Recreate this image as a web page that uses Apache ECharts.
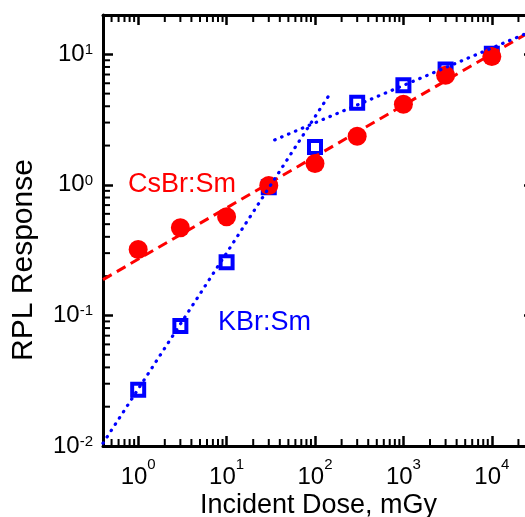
<!DOCTYPE html>
<html>
<head>
<meta charset="utf-8">
<script src="https://cdn.jsdelivr.net/npm/echarts@6/dist/echarts.min.js"></script>
<style>
html, body { margin: 0; padding: 0; background: #fff; }
#chart { width: 525px; height: 517px; }
</style>
</head>
<body>
<div id="chart"></div>
<script>
// doses (mGy) and RPL responses
const doses = [1, 3, 10, 30, 100, 300, 1000, 3000, 10000];
const csbrResponse = [0.32, 0.47, 0.57, 0.99, 1.46, 2.36, 4.14, 6.9, 9.6];
const kbrResponse = [0.027, 0.083, 0.255, 0.96, 1.95, 4.25, 5.8, 7.65, 10.1];

// power-law fit lines, end points
const csbrFit = [[0.4, 0.188], [30000, 15.5]];
const kbrFitLow = [[0.4, 0.0105], [141, 4.75]];
const kbrFitHigh = [[35, 2.21], [30000, 15.3]];

const xRange = [0.4, 30000];
const yRange = [0.01, 20];
const minorMantissas = [2, 3, 4, 5, 6, 7, 8, 9];

const FONT = '"Liberation Sans", Arial, sans-serif';
const RED = '#ff0000';
const BLUE = '#0000ff';
const MINOR_LEN = 7;

function minorTicks(lo, hi) {
    const out = [];
    for (let e = -3; e <= 5; e++) {
        for (const m of minorMantissas) {
            const v = m * Math.pow(10, e);
            if (v > lo * 1.0001 && v < hi * 0.9999) out.push(v);
        }
    }
    return out;
}

function powLabel(v) {
    const l = Math.log10(v);
    const e = Math.round(l);
    if (Math.abs(l - e) > 1e-6) return '';
    return '{b|10}{s|' + e + '}';
}

function pairs(xs, ys) {
    return xs.map((x, i) => [x, ys[i]]);
}

const tickStyle = { inside: true, length: 10, lineStyle: { color: '#000', width: 2.5 } };
const lineStyle = { color: '#000', width: 3 };

const myChart = echarts.init(document.getElementById('chart'));
const option = {
    animation: false,
    grid: {
        left: 103,
        right: -9,
        top: 15,
        bottom: 71,
        outerBoundsMode: 'none'
    },
    xAxis: [
    {
        type: 'log',
        min: xRange[0],
        max: xRange[1],
        position: 'bottom',
        axisLine: { lineStyle: lineStyle },
        axisTick: tickStyle,
        splitLine: { show: false },
        axisLabel: {
            margin: 11,
            formatter: powLabel,
            rich: {
                b: { fontSize: 24, fontFamily: FONT, color: '#000', lineHeight: 32, verticalAlign: 'bottom' },
                s: { fontSize: 15, fontFamily: FONT, color: '#000', lineHeight: 8, verticalAlign: 'top' }
            }
        },
        name: 'Incident Dose, mGy',
        nameLocation: 'middle',
        nameGap: 46,
        nameMoveOverlap: false,
        nameTextStyle: { fontSize: 27, fontFamily: FONT, color: '#000' }
    },
    {
        type: 'log',
        min: xRange[0],
        max: xRange[1],
        position: 'top',
        axisLine: { lineStyle: lineStyle },
        axisTick: tickStyle,
        axisLabel: { show: false },
        splitLine: { show: false }
    }],
    yAxis: [
    {
        type: 'log',
        min: yRange[0],
        max: yRange[1],
        position: 'left',
        axisLine: { lineStyle: lineStyle },
        axisTick: tickStyle,
        splitLine: { show: false },
        axisLabel: {
            margin: 10,
            formatter: powLabel,
            rich: {
                b: { fontSize: 24, fontFamily: FONT, color: '#000', lineHeight: 24, verticalAlign: 'middle' },
                s: { fontSize: 15, fontFamily: FONT, color: '#000', lineHeight: 15, verticalAlign: 'top' }
            }
        }
    },
    {
        type: 'log',
        min: yRange[0],
        max: yRange[1],
        position: 'right',
        axisLine: { lineStyle: lineStyle },
        axisTick: tickStyle,
        axisLabel: { show: false },
        splitLine: { show: false }
    }],
    graphic: [
        {
            type: 'text',
            x: 24,
            y: 260,
            rotation: Math.PI / 2,
            style: { text: 'RPL Response', fill: '#000', font: '30px ' + FONT, textAlign: 'center', textVerticalAlign: 'middle' }
        },
        {
            type: 'text',
            x: 128,
            y: 185,
            style: { text: 'CsBr:Sm', fill: RED, font: '27px ' + FONT, textAlign: 'left', textVerticalAlign: 'middle' }
        },
        {
            type: 'text',
            x: 218,
            y: 323,
            style: { text: 'KBr:Sm', fill: BLUE, font: '27px ' + FONT, textAlign: 'left', textVerticalAlign: 'middle' }
        }
    ],
    series: [
    {
        name: 'KBr:Sm',
        type: 'scatter',
        data: pairs(doses, kbrResponse),
        symbol: 'rect',
        symbolSize: 12,
        itemStyle: { color: 'transparent', borderColor: BLUE, borderWidth: 4, opacity: 1 }
    },
    {
        name: 'CsBr:Sm fit',
        type: 'line',
        data: csbrFit,
        showSymbol: false,
        lineStyle: { color: RED, width: 3, type: [10, 6] }
    },
    {
        name: 'CsBr:Sm',
        type: 'scatter',
        data: pairs(doses, csbrResponse),
        symbol: 'circle',
        symbolSize: 19,
        itemStyle: { color: RED, opacity: 1 }
    },
    {
        name: 'KBr:Sm fit low',
        type: 'line',
        data: kbrFitLow,
        showSymbol: false,
        lineStyle: { color: BLUE, width: 3.2, type: [0.5, 7], cap: 'round' }
    },
    {
        name: 'KBr:Sm fit high',
        type: 'line',
        data: kbrFitHigh,
        showSymbol: false,
        lineStyle: { color: BLUE, width: 3.2, type: [0.5, 7], cap: 'round' }
    },
    {
        // log minor ticks on bottom and top edges
        type: 'custom',
        silent: true,
        clip: false,
        data: minorTicks(xRange[0], xRange[1]).map(v => [v, 1]),
        renderItem: function (params, api) {
            const cs = params.coordSys;
            const px = api.coord([api.value(0), 1])[0];
            const st = { stroke: '#000', lineWidth: 2 };
            return {
                type: 'group',
                children: [
                    { type: 'line', shape: { x1: px, y1: cs.y + cs.height, x2: px, y2: cs.y + cs.height - MINOR_LEN }, style: st },
                    { type: 'line', shape: { x1: px, y1: cs.y, x2: px, y2: cs.y + MINOR_LEN }, style: st }
                ]
            };
        }
    },
    {
        // log minor ticks on left and right edges
        type: 'custom',
        silent: true,
        clip: false,
        data: minorTicks(yRange[0], yRange[1]).map(v => [1, v]),
        renderItem: function (params, api) {
            const cs = params.coordSys;
            const py = api.coord([1, api.value(1)])[1];
            const st = { stroke: '#000', lineWidth: 2 };
            return {
                type: 'group',
                children: [
                    { type: 'line', shape: { x1: cs.x, y1: py, x2: cs.x + MINOR_LEN, y2: py }, style: st },
                    { type: 'line', shape: { x1: cs.x + cs.width, y1: py, x2: cs.x + cs.width - MINOR_LEN, y2: py }, style: st }
                ]
            };
        }
    }]
};
option && myChart.setOption(option);
</script>
</body>
</html>
